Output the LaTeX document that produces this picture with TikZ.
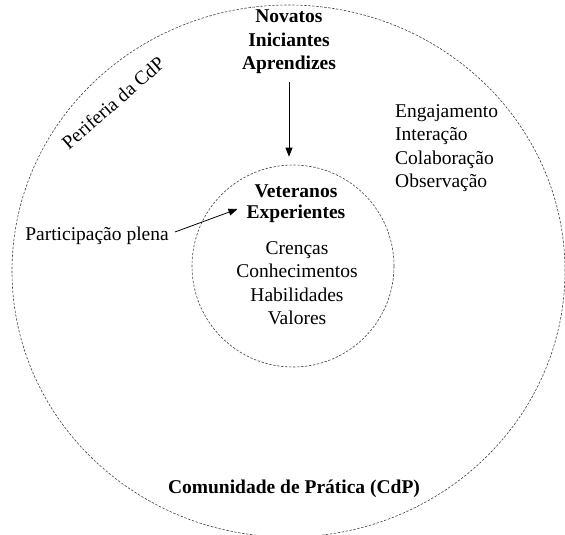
\documentclass[tikz,border=0pt]{standalone}
\usepackage{fontspec}
\setmainfont{Liberation Serif}
\newfontfamily\timesfam{Liberation Serif}
\usetikzlibrary{arrows.meta}
\begin{document}
\begin{tikzpicture}[x=1pt,y=-1pt,
  ring/.style={draw=black!75, line width=0.6pt, dash pattern=on 2.4pt off 1.6pt},
  txt/.style={inner sep=0pt, align=center, font=\timesfam\fontsize{19.5}{23.5}\selectfont},
  hd/.style={txt, font=\timesfam\fontsize{19.5}{23.5}\selectfont\bfseries},
  arr/.style={-{Triangle[length=9pt,width=7pt]}, line width=0.8pt}]
\useasboundingbox (0,0) rectangle (565,535);
\fill[white] (0,0) rectangle (565,535);
% community (outer) and core (inner) rings
\draw[ring] (288.5,271) ellipse [x radius=276.5pt, y radius=266pt];
\node[ring, circle, minimum size=202pt, inner sep=0pt] (core) at (293,266) {};
% labels
\node[hd] (nov) at (289,42) {Novatos\\Iniciantes\\Aprendizes};
\node[hd] (vet) at (296,191) {Veteranos};
\node[hd] (exp) at (296,214) {Experientes};
\node[txt] (vals) at (297,283) {Crenças\\Conhecimentos\\Habilidades\\Valores};
\node[txt, anchor=west, align=left] (acts) at (395,148) {Engajamento\\Interação\\Colaboração\\Observação};
\node[txt] (part) at (97,236) {Participação plena};
\node[txt, rotate=41] (perif) at (113,103) {Periferia da CdP};
\node[hd] (cdp) at (294,489) {Comunidade de Prática (CdP)};
% arrows
\draw[arr, shorten <=8pt, shorten >=8pt] (nov.south) -- (nov.south |- core.north);
\draw[arr] ([xshift=6pt,yshift=4pt]part.east) -- ([xshift=-9pt,yshift=5pt]exp.west);
\end{tikzpicture}
\end{document}
